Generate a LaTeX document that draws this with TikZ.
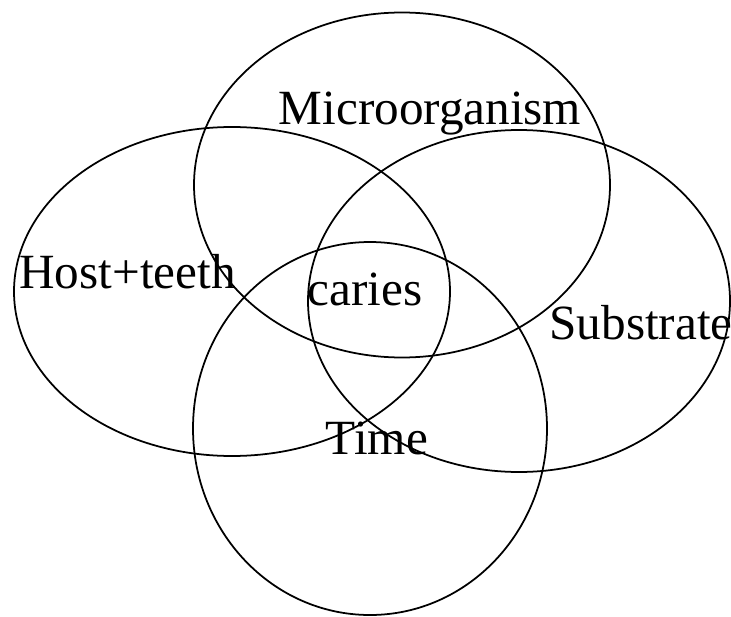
\documentclass[tikz,border=0pt]{standalone}
\usepackage{fontspec}
\setmainfont{Liberation Serif}
\usepackage{tikz}
\usetikzlibrary{positioning}

\tikzset{
    factor/.style={draw, line width=1pt},
    label/.style={anchor=base, inner sep=0pt, font=\fontsize{28}{34}\selectfont}
}

\begin{document}
\begin{tikzpicture}[scale=1.0]
    \useasboundingbox (0,0) rectangle (14.62,12.32);
    % Four factors
    \draw[factor] (8.04,8.62) ellipse [x radius=4.16, y radius=3.45];
    \draw[factor] (4.64,6.49) ellipse [x radius=4.36, y radius=3.29];
    \draw[factor] (10.38,6.30) ellipse [x radius=4.22, y radius=3.42];
    \draw[factor] (7.40,3.75) ellipse [x radius=3.54, y radius=3.73];
    % Labels
    \node[label] (micro) at (8.60,9.82) {Microorganism};
    \node[label] (host) at (2.55,6.56) {Host+teeth};
    \node[label] (caries) at (7.30,6.22) {caries};
    \node[label] (substrate) at (12.82,5.54) {Substrate};
    \node[label] (time) at (7.54,3.24) {Time};
\end{tikzpicture}
\end{document}
